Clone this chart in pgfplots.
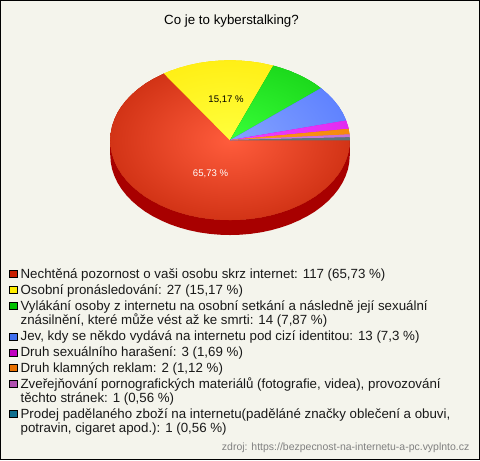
\documentclass[border=0pt]{standalone}
\usepackage{pgfplots}
\pgfplotsset{compat=1.18}
\usepackage{fontspec}
\setmainfont{Liberation Sans}
\definecolor{panel}{HTML}{F4F4EC}
\definecolor{redA}{HTML}{FF5C3C}\definecolor{redB}{HTML}{B81C00}
\definecolor{redS}{HTML}{A80000}
\definecolor{yelA}{HTML}{FFFF3C}\definecolor{yelB}{HTML}{FFE600}
\definecolor{greA}{HTML}{38FF38}\definecolor{greB}{HTML}{0CC40C}
\definecolor{bluA}{HTML}{85A3FF}\definecolor{bluB}{HTML}{4A70FF}
\definecolor{magA}{HTML}{F040FF}\definecolor{magB}{HTML}{D820E8}
\definecolor{oraA}{HTML}{FF9A20}\definecolor{oraB}{HTML}{F08000}
\definecolor{purA}{HTML}{D080E0}\definecolor{purB}{HTML}{C068D0}
\definecolor{teaA}{HTML}{607880}\definecolor{teaB}{HTML}{587078}
\definecolor{lgR}{HTML}{C81E00}\definecolor{lgY}{HTML}{FFEE00}
\definecolor{lgG}{HTML}{00C000}\definecolor{lgB}{HTML}{4070F0}
\definecolor{lgM}{HTML}{C000C0}\definecolor{lgO}{HTML}{E87000}
\definecolor{lgP}{HTML}{B050B0}\definecolor{lgT}{HTML}{107090}
\newif\ifinpp
\pgfplotsset{
  slice/.style 2 args={draw=none,fill=#2,forget plot,no markers,
    path picture={\ifinpp\else\inpptrue\shade[inner color=#1,outer color=#2] (axis cs:230,140) ellipse [x radius=190pt,y radius=127pt];\fi}},
  swatch/.style={only marks,forget plot,mark=square*,mark size=3.6pt,
    mark options={draw=black,line width=0.7pt,fill=#1}},
}
\tikzset{lab/.style={anchor=base west,inner sep=0pt,font=\fontsize{13.33}{15}\selectfont,text=black!90}}
\begin{document}
\begin{tikzpicture}
\begin{axis}[scale only axis,width=480pt,height=460pt,
  xmin=0,xmax=480,ymin=0,ymax=460,y dir=reverse,
  xtick=\empty,ytick=\empty,clip=false,
  axis background/.style={fill=panel},
  axis line style={black,line width=0.9pt}]
% side of the pie
\addplot[draw=none,fill=redS,forget plot,no markers] coordinates {
(350,140)(349.5,147)(348.2,153.9)(345.9,160.7)(342.8,167.4)(338.8,173.8)(333.9,180)(328.3,185.9)(321.9,191.4)(314.9,196.6)(307.1,201.3)(298.8,205.5)(290,209.3)(280.7,212.5)(271,215.2)(261.1,217.3)(250.8,218.8)(240.5,219.7)(230,220)(219.5,219.7)(209.2,218.8)(198.9,217.3)(189,215.2)(179.3,212.5)(170,209.3)(161.2,205.5)(152.9,201.3)(145.1,196.6)(138.1,191.4)(131.7,185.9)(126.1,180)(121.2,173.8)(117.2,167.4)(114.1,160.7)(111.8,153.9)(110.5,147)(110,140)
(110,155)(110.5,162)(111.8,168.9)(114.1,175.7)(117.2,182.4)(121.2,188.8)(126.1,195)(131.7,200.9)(138.1,206.4)(145.1,211.6)(152.9,216.3)(161.2,220.5)(170,224.3)(179.3,227.5)(189,230.2)(198.9,232.3)(209.2,233.8)(219.5,234.7)(230,235)(240.5,234.7)(250.8,233.8)(261.1,232.3)(271,230.2)(280.7,227.5)(290,224.3)(298.8,220.5)(307.1,216.3)(314.9,211.6)(321.9,206.4)(328.3,200.9)(333.9,195)(338.8,188.8)(342.8,182.4)(345.9,175.7)(348.2,168.9)(349.5,162)(350,155)};
% red 65.73 %
\addplot[slice={redA}{redB}] coordinates {
(230,140)(350,140)(349.5,147)(348.2,153.9)(345.9,160.7)(342.8,167.4)(338.8,173.8)(333.9,180)(328.3,185.9)(321.9,191.4)(314.9,196.6)(307.1,201.3)(298.8,205.5)(290,209.3)(280.7,212.5)(271,215.2)(261.1,217.3)(250.8,218.8)(240.5,219.7)(230,220)(219.5,219.7)(209.2,218.8)(198.9,217.3)(189,215.2)(179.3,212.5)(170,209.3)(161.2,205.5)(152.9,201.3)(145.1,196.6)(138.1,191.4)(131.7,185.9)(126.1,180)(121.2,173.8)(117.2,167.4)(114.1,160.7)(111.8,153.9)(110.5,147)(110,140)(110.5,133)(111.8,126.1)(114.1,119.3)(117.2,112.6)(121.2,106.2)(126.1,100)(131.7,94.1)(138.1,88.6)(145.1,83.4)(152.9,78.7)(163.9,73.2)};
% yellow 15.17 %
\addplot[slice={yelA}{yelB}] coordinates {
(230,140)(163.9,73.2)(170,70.7)(179.3,67.5)(189,64.8)(198.9,62.7)(209.2,61.2)(219.5,60.3)(230,60)(240.5,60.3)(250.8,61.2)(261.1,62.7)(273.4,65.4)};
% green 7.87 %
\addplot[slice={greA}{greB}] coordinates {
(230,140)(273.4,65.4)(280.7,67.5)(290,70.7)(298.8,74.5)(307.1,78.7)(314.9,83.4)(321.2,88)};
% blue 7.3 %
\addplot[slice={bluA}{bluB}] coordinates {
(230,140)(321.2,88)(328.3,94.1)(333.9,100)(338.8,106.2)(342.8,112.6)(345.9,119.3)(346.3,120.4)};
% magenta 1.69 %
\addplot[slice={magA}{magB}] coordinates {(230,140)(346.3,120.4)(348.2,126.1)(348.8,128.7)};
% orange 1.12 %
\addplot[slice={oraA}{oraB}] coordinates {(230,140)(348.8,128.7)(349.5,133)(349.7,134.3)};
% purple 0.56 %
\addplot[slice={purA}{purB}] coordinates {(230,140)(349.7,134.3)(349.9,137.2)};
% teal 0.56 %
\addplot[slice={teaA}{teaB}] coordinates {(230,140)(349.9,137.2)(350,140)};
% legend swatches
\addplot[swatch=lgR] coordinates {(13,274)};
\addplot[swatch=lgY] coordinates {(13,290)};
\addplot[swatch=lgG] coordinates {(13,306.3)};
\addplot[swatch=lgB] coordinates {(13,336.7)};
\addplot[swatch=lgM] coordinates {(13,352.7)};
\addplot[swatch=lgO] coordinates {(13,368.3)};
\addplot[swatch=lgP] coordinates {(13,384.3)};
\addplot[swatch=lgT] coordinates {(13,414.3)};
% texts
\node[font=\fontsize{13.33}{15}\selectfont,text=black] at (axis cs:231.5,21) {Co je to kyberstalking?};
\node[font=\fontsize{9.6}{12}\selectfont,text=black] at (axis cs:226,100) {15,17 \%};
\node[font=\fontsize{9.6}{12}\selectfont,text=white] at (axis cs:210.5,174) {65,73 \%};
\node[lab] at (axis cs:20,279) {Nechtěná pozornost o vaši osobu skrz internet: 117 (65,73 \%)};
\node[lab] at (axis cs:20,294.5) {Osobní pronásledování: 27 (15,17 \%)};
\node[lab] at (axis cs:20,311) {Vylákání osoby z internetu na osobní setkání a následně její sexuální};
\node[lab] at (axis cs:20,325) {znásilnění, které může vést až ke smrti: 14 (7,87 \%)};
\node[lab] at (axis cs:20,341) {Jev, kdy se někdo vydává na internetu pod cizí identitou: 13 (7,3 \%)};
\node[lab] at (axis cs:20,356.5) {Druh sexuálního harašení: 3 (1,69 \%)};
\node[lab] at (axis cs:20,372.5) {Druh klamných reklam: 2 (1,12 \%)};
\node[lab] at (axis cs:20,388.5) {Zveřejňování pornografických materiálů (fotografie, videa), provozování};
\node[lab] at (axis cs:20,402.5) {těchto stránek: 1 (0,56 \%)};
\node[lab] at (axis cs:20,418.5) {Prodej padělaného zboží na internetu(paděláné značky oblečení a obuvi,};
\node[lab] at (axis cs:20,432.5) {potravin, cigaret apod.): 1 (0,56 \%)};
\node[anchor=east,inner sep=0pt,font=\fontsize{10.5}{12}\selectfont,text=black!50] at (axis cs:470,448.5) {zdroj: https://bezpecnost-na-internetu-a-pc.vyplnto.cz};
\end{axis}
\end{tikzpicture}
\end{document}
